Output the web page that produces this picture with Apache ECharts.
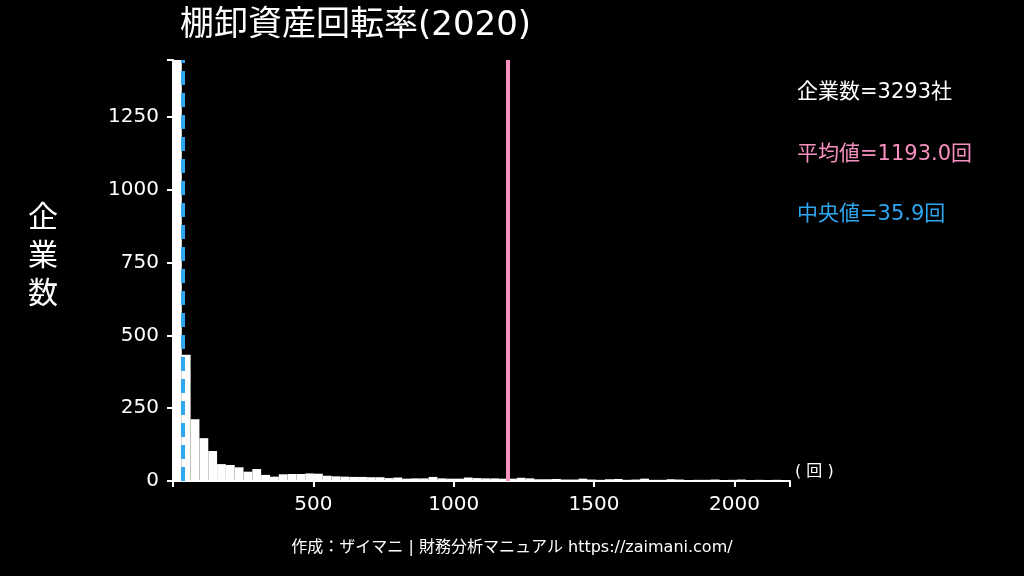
<!DOCTYPE html><html><head><meta charset="utf-8"><script src="https://cdn.jsdelivr.net/npm/echarts@6/dist/echarts.min.js"></script>
<style>body{margin:0;background:#000}#c{width:1024px;height:576px}</style></head><body><div id="c"></div><script>
const binWidth = 31.4;
const counts = [1445,433,212,147,103,58,55,47,32,41,21,15,23,24,24,26,25,18,16,15,14,14,13,13,10,12,8,9,9,14,9,8,8,12,10,9,9,8,8,11,9,6,6,7,5,5,8,5,4,6,7,4,5,8,4,4,6,5,3,4,4,5,3,4,5,3,4,3,4,3];
const meanVal = 1193.0, medianVal = 35.9;
const xTicks = [500,1000,1500,2000];
const yTicks = [0,250,500,750,1000,1250];
const data = counts.map((c,i)=>[i*binWidth,(i+1)*binWidth,c]);
const ch = echarts.init(document.getElementById('c'));
const ff = '"DejaVu Sans","Noto Sans CJK JP",sans-serif';
ch.setOption({
 backgroundColor:'#000',
 grid:{left:173,right:234,top:60,bottom:95},
 title:{text:'棚卸資産回転率(2020)',left:175,top:4,textStyle:{color:'#fff',fontSize:34,fontWeight:'normal',fontFamily:ff}},
 xAxis:{type:'value',min:0,max:counts.length*binWidth,interval:500,
  axisLine:{lineStyle:{color:'#fff',width:2}},axisTick:{show:true,length:6,lineStyle:{color:'#fff',width:2}},splitLine:{show:false},
  axisLabel:{color:'#fff',fontSize:20,fontFamily:ff,margin:14,formatter:v=>xTicks.includes(v)?String(v):''}},
 yAxis:{type:'value',min:0,max:1445,interval:250,
  axisLine:{show:true,lineStyle:{color:'#fff',width:2}},axisTick:{show:true,length:6,lineStyle:{color:'#fff',width:2}},splitLine:{show:false},
  axisLabel:{color:'#fff',fontSize:20,fontFamily:ff,margin:14,formatter:v=>yTicks.includes(v)?String(v):''}},
 graphic:[
  {type:'text',left:28,top:200,style:{text:'企\n業\n数',fill:'#fff',fontSize:30,fontFamily:ff,lineHeight:38}},
  {type:'text',left:797,top:82,style:{text:'企業数=3293社',fill:'#fff',fontSize:21,fontFamily:ff}},
  {type:'text',left:797,top:144,style:{text:'平均値='+meanVal.toFixed(1)+'回',fill:'#f78fbf',fontSize:21,fontFamily:ff}},
  {type:'text',left:797,top:204,style:{text:'中央値='+medianVal+'回',fill:'#2ea7f0',fontSize:21,fontFamily:ff}},
  {type:'text',left:795,top:464,style:{text:'( 回 )',fill:'#fff',fontSize:16,fontFamily:ff}},
  {type:'text',left:'center',top:540,style:{text:'作成：ザイマニ | 財務分析マニュアル https://zaimani.com/',fill:'#fff',fontSize:16,fontFamily:ff}}
 ],
 series:[{type:'custom',data:data,encode:{x:[0,1],y:2},
  renderItem:(p,api)=>{const a=api.coord([api.value(0),api.value(2)]),b=api.coord([api.value(1),0]);
   return {type:'rect',shape:{x:a[0],y:a[1],width:b[0]-a[0],height:b[1]-a[1]},style:{fill:'#fff'}};},
  markLine:{symbol:'none',silent:true,label:{show:false},data:[
   {xAxis:meanVal,lineStyle:{color:'#f78fbf',width:4,type:'solid'}},
   {xAxis:medianVal,lineStyle:{color:'#2ea7f0',width:4,type:[14,8]}}]}
 }]
});
</script></body></html>
